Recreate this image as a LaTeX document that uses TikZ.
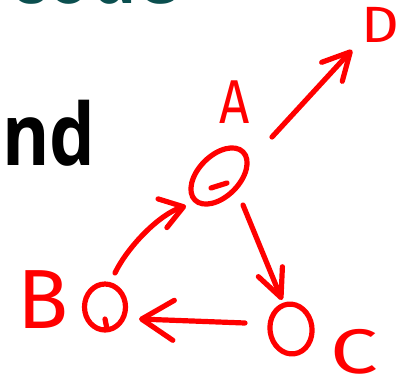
\documentclass[tikz,border=0pt]{standalone}
\usepackage{fontspec}
\setmainfont{Fira Sans}
\newfontfamily\slidefont{Open Sans}
\usetikzlibrary{arrows.meta,shapes.geometric,calc}
\definecolor{handred}{HTML}{FF0000}
\definecolor{titleteal}{HTML}{0B4F4F}
\begin{document}
\begin{tikzpicture}[x=1pt,y=-1pt,
  hand/.style={draw=handred,line width=5.2pt,line cap=round,line join=round},
  vertex/.style={hand,ellipse,inner sep=0pt,outer sep=0pt},
  letter/.style={text=handred,inner sep=0pt,font=\fontsize{#1}{#1}\selectfont},
  slide/.style={anchor=base west,inner sep=0pt,xscale=0.84,transform shape,font=\slidefont\bfseries\fontsize{86}{86}\selectfont},
  barb/.style 2 args={-{Straight Barb[round,length=#1,width=#2]}}]
\useasboundingbox (0,0) rectangle (406,385);
\clip (0,0) rectangle (406,385);
% slide text
\node[slide,text=titleteal] (title) at (9,4) {code};
\node[slide,text=black] (sub) at (2,165) {nd};
% vertices
\node[vertex,minimum width=68pt,minimum height=41pt,rotate=45] (A) at (219,176) {};
\node[vertex,minimum width=41pt,minimum height=46pt] (B) at (105,307) {};
\node[vertex,minimum width=42pt,minimum height=50pt,rotate=8] (C) at (291,329) {};
\draw[hand] ($(A)+(-8,12)$) -- ($(A)+(8,7)$);
\draw[hand] ($(B)+(0,12)$) -- ($(B)+(2,22)$);
% labels
\node[letter=62,xscale=0.85,transform shape] (Alab) at (235,102) {A};
\node[letter=84] (Blab) at (43,300) {B};
\node[letter=63,xscale=1.35,transform shape] (Clab) at (354,352) {C};
\node[letter=51,xscale=1.15,transform shape] (Dlab) at (380,25) {D};
% arrows
\draw[hand,barb={27pt}{28pt}] ($(A)+(53,-39)$) -- ($(Dlab)+(-28,25)$);
\draw[hand,barb={28pt}{26pt}] ($(A)+(24,29)$) -- ($(C)+(-9,-29)$);
\draw[hand,barb={32pt}{40pt}] ($(C)+(-46,-6)$) -- ($(B)+(34,12)$);
\draw[hand,barb={22pt}{30pt}] ($(B)+(10,-34)$) .. controls ($(B)+(23,-61)$) and ($(A)+(-59,38)$) .. ($(A)+(-33,30)$);
\end{tikzpicture}
\end{document}
